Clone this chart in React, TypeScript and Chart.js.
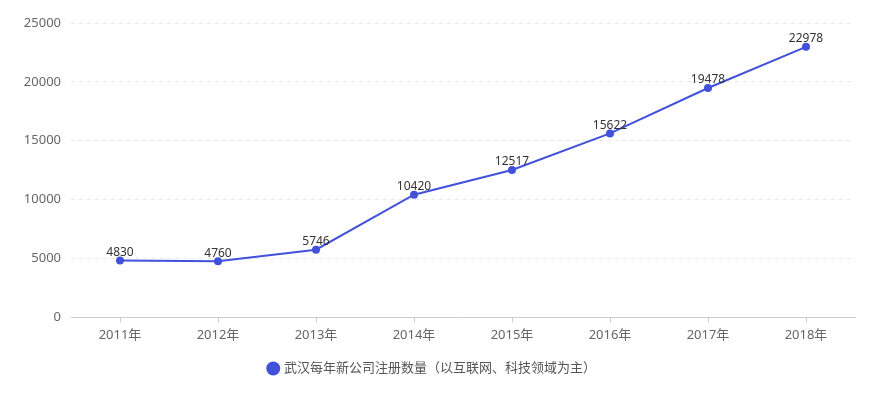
import React, { useEffect, useRef } from "react";
import { Chart, registerables } from "chart.js";

Chart.register(...registerables);

const years = ["2011年", "2012年", "2013年", "2014年", "2015年", "2016年", "2017年", "2018年"];
const counts = [4830, 4760, 5746, 10420, 12517, 15622, 19478, 22978];
const seriesName = "武汉每年新公司注册数量（以互联网、科技领域为主）";
const yTicks = [0, 5000, 10000, 15000, 20000, 25000];

const FONT = "'Noto Sans', 'Noto Sans CJK SC', sans-serif";
const LINE = "#4151dc";

const labelPlugin = {
  id: "pointLabels",
  afterDatasetsDraw(chart: any) {
    const ctx = chart.ctx;
    const meta = chart.getDatasetMeta(0);
    ctx.save();
    ctx.font = `12px ${FONT}`;
    ctx.fillStyle = "#333";
    ctx.textAlign = "center";
    ctx.textBaseline = "bottom";
    meta.data.forEach((pt: any, i: number) => {
      ctx.fillText(String(counts[i]), pt.x, pt.y - 2);
    });
    ctx.restore();
  },
};

export default function App() {
  const ref = useRef<HTMLCanvasElement>(null);
  useEffect(() => {
    const chart = new Chart(ref.current!, {
      type: "line",
      data: {
        labels: years,
        datasets: [
          {
            label: seriesName,
            data: counts,
            borderColor: LINE,
            backgroundColor: LINE,
            pointBackgroundColor: LINE,
            pointBorderColor: LINE,
            borderWidth: 2,
            pointRadius: 3,
            tension: 0,
          },
        ],
      },
      options: {
        animation: false,
        responsive: false,
        layout: { padding: { left: 10, right: 25, top: 23, bottom: 15 } },
        plugins: {
          tooltip: { enabled: false },
          legend: {
            position: "bottom",
            labels: {
              usePointStyle: true,
              pointStyle: "circle",
              boxWidth: 8.5,
              boxHeight: 8.5,
              color: "#555",
              font: { family: FONT, size: 13 },
              padding: 14,
            },
          },
        },
        scales: {
          x: {
            offset: true,
            grid: {
              display: true,
              drawOnChartArea: false,
              drawTicks: true,
              tickLength: 5,
              color: "#ccc",
            },
            border: { display: true, color: "#ccc" },
            ticks: { color: "#666", font: { family: FONT, size: 13 }, padding: 5 },
          },
          y: {
            min: 0,
            max: 25000,
            afterBuildTicks: (s: any) => {
              s.ticks = yTicks.map((v) => ({ value: v }));
            },
            afterFit: (s: any) => {
              s.width = 61;
            },
            grid: {
              color: "#e8e8e8",
              drawTicks: false,
            },
            border: { display: false, dash: [4, 4] },
            ticks: {
              color: "#666",
              font: { family: FONT, size: 13 },
              padding: 10,
              callback: (v: any) => String(v),
            },
          },
        },
      },
      plugins: [labelPlugin],
    });
    return () => chart.destroy();
  }, []);
  return (
    <div style={{ position: "fixed", left: 0, top: 0, width: 880, height: 400, background: "#fff" }}>
      <canvas ref={ref} width={880} height={400} style={{ width: 880, height: 400 }} />
    </div>
  );
}
